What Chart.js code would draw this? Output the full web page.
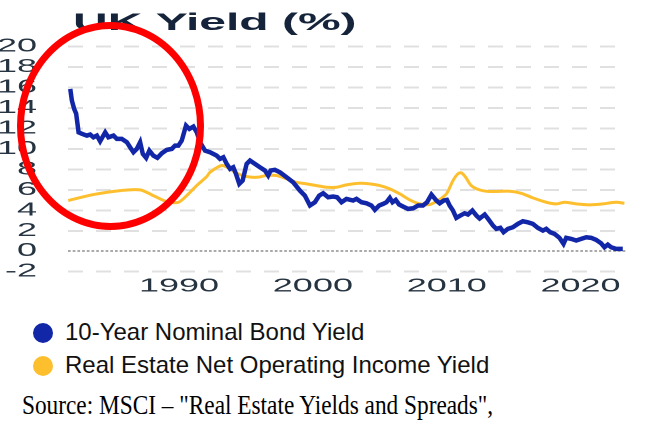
<!DOCTYPE html>
<html>
<head>
<meta charset="utf-8">
<script src="https://cdn.jsdelivr.net/npm/chart.js@4.4.1/dist/chart.umd.min.js"></script>
<style>
  body { margin: 0; background: #fff; width: 656px; height: 424px; overflow: hidden; position: relative; }
  #axesWrap { position: absolute; left: 0; top: 0; width: 328px; height: 300px; transform: scaleX(2); transform-origin: 0 0; }
  #lines { position: absolute; left: 0; top: 0; }
  .dot { position: absolute; left: 33px; width: 20px; height: 20px; border-radius: 50%; }
  .lbl { position: absolute; left: 65px; font: 24px "Liberation Sans", Arial, sans-serif; line-height: 24px; color: #111; white-space: nowrap; }
  #source { position: absolute; left: 22px; top: 392px; font: 27px "Liberation Serif", "Times New Roman", serif; line-height: 27px; color: #000; white-space: nowrap; transform: scaleX(0.863); transform-origin: 0 0; }
</style>
</head>
<body>
<div id="axesWrap"><canvas id="axes" width="328" height="300"></canvas></div>
<canvas id="lines" width="656" height="300"></canvas>
<div id="legend"></div>
<div id="source">Source: MSCI – "Real Estate Yields and Spreads",</div>
<script>
const chartTitle = 'UK Yield (%)';
const seriesNames = ['10-Year Nominal Bond Yield', 'Real Estate Net Operating Income Yield'];
const seriesColors = ['#1226a8', '#fdbf2d'];
const xTicks = [1990, 2000, 2010, 2020];
const yTicks = [-2, 0, 2, 4, 6, 8, 10, 12, 14, 16, 18, 20];
const zeroLine = [0];

const bondYears = [1981.87, 1981.99, 1982.16, 1982.31, 1982.49, 1982.74, 1983.11, 1983.36, 1983.60, 1983.86,
  1984.10, 1984.48, 1984.72, 1985.10, 1985.35, 1985.72, 1986.10, 1986.34, 1986.59, 1986.84,
  1987.09, 1987.29, 1987.54, 1987.78, 1988.08, 1988.38, 1988.71, 1989.08, 1989.46, 1989.70,
  1989.95, 1990.20, 1990.52, 1990.77, 1991.07, 1991.32, 1991.57, 1991.94, 1992.31, 1992.81,
  1993.06, 1993.31, 1993.56, 1993.81, 1994.05, 1994.25, 1994.50, 1994.75, 1995.05, 1995.30,
  1995.67, 1996.04, 1996.42, 1996.66, 1996.84, 1997.16, 1997.54, 1998.04, 1998.53, 1999.03,
  1999.40, 1999.78, 2000.15, 2000.47, 2000.77, 2001.14, 2001.51, 2001.81, 2002.14, 2002.51,
  2003.01, 2003.26, 2003.63, 2004.01, 2004.38, 2004.63, 2004.95, 2005.25, 2005.50, 2005.75,
  2005.95, 2006.19, 2006.44, 2006.74, 2007.11, 2007.49, 2007.86, 2008.23, 2008.53, 2008.86,
  2009.23, 2009.48, 2009.78, 2010.02, 2010.22, 2010.47, 2010.72, 2011.02, 2011.34, 2011.59,
  2011.92, 2012.22, 2012.46, 2012.84, 2013.13, 2013.46, 2013.71, 2014.01, 2014.25, 2014.57,
  2014.95, 2015.32, 2015.69, 2016.07, 2016.44, 2016.81, 2017.19, 2017.44, 2017.74, 2018.06,
  2018.43, 2018.73, 2018.93, 2019.31, 2019.68, 2020.05, 2020.43, 2020.80, 2021.17, 2021.54,
  2021.79, 2022.04, 2022.29, 2022.66, 2023.16];
const bondYield = [15.87, 14.73, 13.92, 13.46, 11.63, 11.48, 11.31, 11.41, 11.14, 11.31,
  10.75, 11.63, 11.14, 11.31, 10.99, 10.99, 10.66, 10.17, 9.68, 10.01,
  10.66, 9.52, 9.13, 9.84, 9.35, 9.13, 9.58, 9.91, 10.01, 10.33,
  10.33, 10.82, 12.29, 11.96, 12.19, 11.63, 10.66, 9.84, 9.68, 9.35,
  9.03, 9.19, 8.54, 8.05, 8.21, 7.57, 6.59, 6.91, 8.54, 8.87,
  8.54, 8.21, 7.89, 7.40, 7.89, 7.96, 7.72, 7.23, 6.74, 5.93,
  5.44, 4.47, 4.79, 5.44, 5.67, 5.28, 5.35, 5.28, 4.79, 5.12,
  4.96, 5.12, 4.79, 4.69, 4.47, 4.05, 4.47, 4.63, 4.79, 5.22,
  4.79, 5.02, 4.57, 4.37, 4.14, 4.20, 4.47, 4.47, 4.79, 5.54,
  4.96, 4.69, 4.96, 5.02, 4.47, 3.98, 3.26, 3.49, 3.71, 3.59,
  3.98, 3.49, 3.20, 3.59, 3.10, 2.51, 2.19, 2.29, 1.86, 2.19,
  2.35, 2.68, 2.93, 2.83, 2.68, 2.29, 2.02, 2.19, 1.86, 1.70,
  1.31, 0.72, 1.31, 1.21, 1.05, 1.21, 1.37, 1.31, 1.11, 0.78,
  0.39, 0.65, 0.39, 0.23, 0.23];

const noiYears = [1981.72, 1983.60, 1985.60, 1987.09, 1988.08, 1989.08, 1989.95, 1990.57, 1991.32, 1992.07,
  1992.31, 1993.19, 1993.81, 1994.31, 1995.05, 1995.80, 1996.54, 1997.29, 1998.04, 1998.78,
  1999.53, 2000.28, 2001.02, 2001.77, 2002.51, 2003.51, 2004.25, 2005.00, 2005.75, 2006.49,
  2007.24, 2007.99, 2008.73, 2009.35, 2009.98, 2010.47, 2010.84, 2011.10, 2011.42, 2011.84,
  2012.46, 2013.21, 2014.70, 2015.57, 2016.44, 2017.44, 2018.19, 2018.81, 2019.68, 2020.67,
  2021.66, 2022.66, 2023.28];
const noiYield = [4.96, 5.54, 5.93, 6.00, 5.44, 4.86, 4.79, 5.44, 6.42, 7.30,
  7.72, 8.38, 8.05, 7.62, 7.30, 7.23, 7.40, 7.40, 7.08, 6.74,
  6.59, 6.42, 6.26, 6.26, 6.49, 6.65, 6.59, 6.42, 6.10, 5.61,
  5.02, 4.63, 4.57, 4.96, 5.61, 6.91, 7.57, 7.66, 7.23, 6.42,
  6.00, 5.84, 5.87, 5.67, 5.22, 4.79, 4.63, 4.79, 4.63, 4.54,
  4.63, 4.79, 4.69];

const xMin = 1981.7, xMax = 2023.4;
const yMin = -2, yMax = 20;

const toPoints = (xs, ys) => xs.map((x, i) => ({ x, y: ys[i] }));
const setTicks = (values) => (scale) => { scale.ticks = values.map((v) => ({ value: v })); };

// tick labels and title: half-width canvas that css stretches 2x (the wide lettering of the source)
const titlePlugin = {
  id: 'titleText',
  afterDraw(chart) {
    const ctx = chart.ctx;
    ctx.save();
    ctx.font = 'bold 24px "Liberation Sans", Arial, sans-serif';
    ctx.fillStyle = '#15243a';
    ctx.fillText(chartTitle, 36.5, 30);
    ctx.restore();
  },
};

new Chart(document.getElementById('axes'), {
  type: 'line',
  data: { datasets: [] },
  options: {
    responsive: false,
    animation: false,
    devicePixelRatio: 2,
    layout: { padding: { top: 46.7, right: 15, left: 0, bottom: 0 } },
    plugins: { legend: { display: false }, tooltip: { enabled: false } },
    scales: {
      x: {
        type: 'linear',
        min: xMin,
        max: xMax,
        afterBuildTicks: setTicks(xTicks),
        afterFit: (scale) => { scale.height = 28.3; },
        grid: { display: false },
        border: { display: false },
        ticks: {
          padding: -4,
          maxRotation: 0,
          autoSkip: false,
          color: '#263340',
          font: { family: '"Liberation Sans", Arial, sans-serif', size: 18 },
          callback: (v) => String(v),
        },
      },
      y: {
        min: yMin,
        max: yMax,
        afterBuildTicks: setTicks(yTicks),
        afterFit: (scale) => { scale.width = 34; },
        grid: { display: false },
        border: { display: false },
        ticks: {
          padding: 7.5,
          autoSkip: false,
          color: '#263340',
          font: { family: '"Liberation Sans", Arial, sans-serif', size: 18 },
        },
      },
    },
  },
  plugins: [titlePlugin],
});

// grid, the two series and the red highlight: unstretched canvas on top, same chart area
const ellipsePlugin = {
  id: 'highlight',
  afterDraw(chart) {
    const ctx = chart.ctx;
    ctx.save();
    ctx.strokeStyle = '#f00';
    ctx.lineWidth = 7;
    ctx.beginPath();
    ctx.ellipse(110.5, 126, 90, 100.5, 0, 0, Math.PI * 2);
    ctx.stroke();
    ctx.restore();
  },
};

new Chart(document.getElementById('lines'), {
  type: 'line',
  data: {
    datasets: [
      {
        label: seriesNames[0],
        data: toPoints(bondYears, bondYield),
        borderColor: seriesColors[0],
        borderWidth: 4.5,
        pointRadius: 0,
        tension: 0,
      },
      {
        label: seriesNames[1],
        data: toPoints(noiYears, noiYield),
        borderColor: seriesColors[1],
        borderWidth: 3,
        pointRadius: 0,
        tension: 0.3,
        order: 1,
      },
    ],
  },
  options: {
    responsive: false,
    animation: false,
    devicePixelRatio: 2,
    layout: { padding: { top: 46.7, right: 30, left: 68, bottom: 28.3 } },
    plugins: { legend: { display: false }, tooltip: { enabled: false } },
    scales: {
      x: { type: 'linear', display: false, min: xMin, max: xMax },
      y: {
        min: yMin,
        max: yMax,
        afterBuildTicks: setTicks(yTicks.filter((v) => v !== 0)),
        afterFit: (scale) => { scale.width = 0; },
        ticks: { display: false },
        grid: { drawTicks: false, color: '#e0e0e0', lineWidth: 2 },
        border: { display: false, dash: [15, 13] },
      },
      zero: {
        position: 'left',
        min: yMin,
        max: yMax,
        afterBuildTicks: setTicks(zeroLine),
        afterFit: (scale) => { scale.width = 0; },
        ticks: { display: false },
        grid: { drawTicks: false, color: '#555', lineWidth: 1 },
        border: { display: false, dash: [2.7, 2] },
      },
    },
  },
  plugins: [ellipsePlugin],
});

// legend below the plot
const legend = document.getElementById('legend');
const legendTops = [319.7, 353];
seriesNames.forEach((name, i) => {
  const dot = document.createElement('div');
  dot.className = 'dot';
  dot.style.top = (legendTops[i] + 3) + 'px';
  dot.style.background = seriesColors[i];
  legend.appendChild(dot);
  const lbl = document.createElement('div');
  lbl.className = 'lbl';
  lbl.style.top = legendTops[i] + 'px';
  lbl.textContent = name;
  legend.appendChild(lbl);
});
</script>
</body>
</html>
